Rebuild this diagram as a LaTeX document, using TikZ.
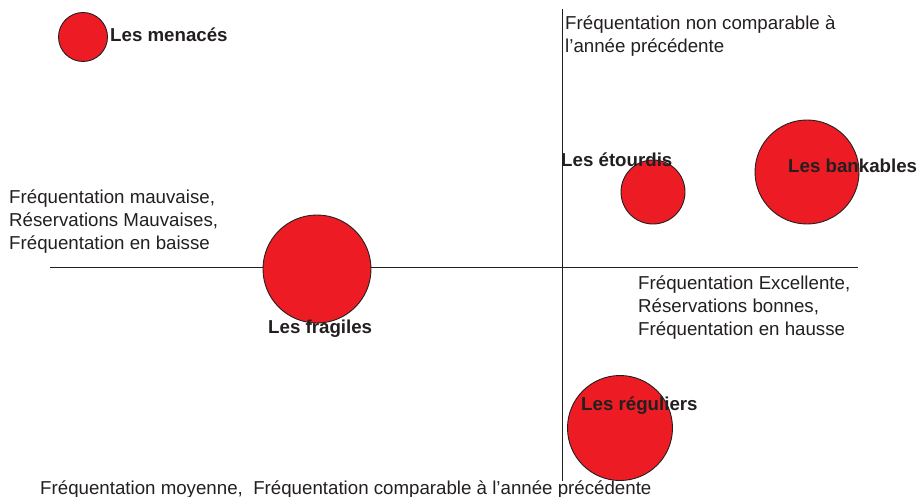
\documentclass[tikz,border=0pt]{standalone}
\usepackage{fontspec}
\setmainfont{Liberation Sans}
\usetikzlibrary{positioning}
\definecolor{rouge}{HTML}{ED1C24}
\definecolor{encre}{HTML}{231F20}
\tikzset{
  bulle/.style={circle, draw=encre, fill=rouge, line width=0.9pt, inner sep=0pt, minimum size=#1},
  groupe/.style={font=\fontsize{18.7}{23}\selectfont\bfseries, text=encre, inner sep=0pt, anchor=base west},
  legende/.style={font=\fontsize{18.7}{23}\selectfont, text=encre, align=left, inner sep=0pt, anchor=base west},
  axe/.style={draw=encre, line width=0.8pt}
}
\begin{document}
\begin{tikzpicture}[x=1pt,y=-1pt]
\useasboundingbox (0,0) rectangle (917,497);
% axes
\coordinate (gauche) at (50,267);
\coordinate (droite) at (858,267);
\coordinate (haut) at (562,9);
\coordinate (bas) at (562,481);
\draw[axe] (gauche) -- (droite);
\draw[axe] (haut) -- (bas);
% bulles
\node at (83,37)[bulle=49pt] (menaces) {};
\node at (653,192)[bulle=64pt] (etourdis) {};
\node at (807,172)[bulle=104pt] (bankables) {};
\node at (317,269)[bulle=108pt] (fragiles) {};
\node at (620,428)[bulle=105pt] (reguliers) {};
% noms des groupes
\node at (110,42)[groupe] (nmenaces) {Les menacés};
\node at (561,167)[groupe] (netourdis) {Les étourdis};
\node at (788,172)[groupe] (nbankables) {Les bankables};
\node at (268,333)[groupe] (nfragiles) {Les fragiles};
\node at (581,410)[groupe] (nreguliers) {Les réguliers};
% legendes des quadrants (base = derniere ligne)
\node at (565,53)[legende] (lhaut) {Fréquentation non comparable à\\l’année précédente};
\node at (9,249)[legende] (lgauche) {Fréquentation mauvaise,\\Réservations Mauvaises,\\Fréquentation en baisse};
\node at (638,335)[legende] (ldroite) {Fréquentation Excellente,\\Réservations bonnes,\\Fréquentation en hausse};
\node at (40,494)[legende] (lbas) {Fréquentation moyenne,\ \ Fréquentation comparable à l’année précédente};
\end{tikzpicture}
\end{document}
